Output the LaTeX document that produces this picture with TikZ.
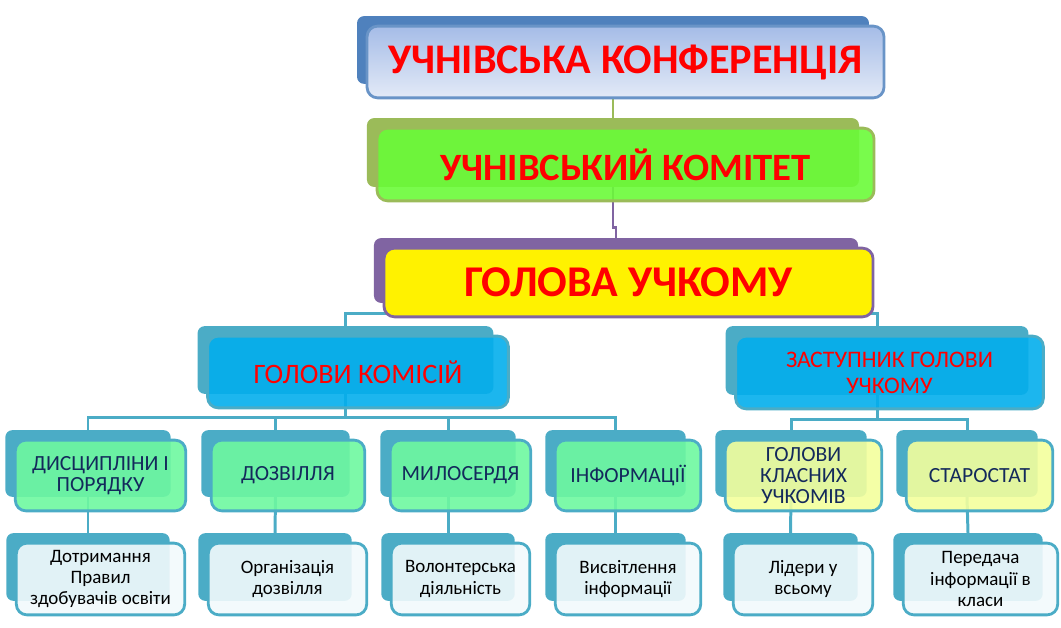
\documentclass[tikz,border=0pt]{standalone}
\usepackage{fontspec}
\setmainfont{Carlito}
\usetikzlibrary{backgrounds}
\definecolor{bluebk}{HTML}{4F81BD}
\definecolor{olivebk}{HTML}{9BBB59}
\definecolor{purplebk}{HTML}{8064A2}
\definecolor{aquabk}{HTML}{4BACC6}
\definecolor{navytxt}{HTML}{13295B}
\definecolor{greenfr}{HTML}{6AFB38}
\definecolor{cyanfr}{HTML}{03AEEC}
\definecolor{mintfr}{HTML}{6EF8A0}
\definecolor{lemonfr}{HTML}{F3FF9C}
\definecolor{palefr}{HTML}{F2FAFC}
\definecolor{skytop}{HTML}{A5BCE7}
\definecolor{skybot}{HTML}{E3EAF7}
\def\px{0.5669pt}
\newcommand\orgunit[8]{%
  \node[shadowbox,#6,minimum width={(#4-#2-5)*\px},minimum height={(#5-#3-4)*\px}] (#1-b) at ({(#2+#4)/2-12.5},{(#3+#5)/2-12}) {};
  \node[frontbox,#7,minimum width={(#4-#2)*\px},minimum height={(#5-#3)*\px}] (#1) at ({(#2+#4)/2},{(#3+#5)/2}) {#8};}
\begin{document}
\begin{tikzpicture}[x=0.02cm,y=-0.02cm,
  shadowbox/.style={rounded corners=4pt,inner sep=0pt,outer sep=0pt},
  frontbox/.style={rounded corners=6pt,line width=1.6pt,align=center,inner sep=0pt,
    fill opacity=0.9,text opacity=1,draw opacity=1},
  toptxt/.style={text=red,font=\fontsize{24}{28}\selectfont\bfseries},
  subtxt/.style={text=red,font=\fontsize{16}{18}\selectfont},
  subtxtb/.style={text=red,font=\fontsize{13.5}{14.7}\selectfont},
  navy/.style={text=navytxt,font=\fontsize{12.3}{12.2}\selectfont},
  plain/.style={text=black,font=\fontsize{10.8}{12}\selectfont},
  link/.style={aquabk,line width=1.7pt}]
\useasboundingbox (0,0) rectangle (1061,628);
\orgunit{top}{366}{26}{885}{98}{fill=bluebk}{draw=bluebk!85!white,top color=skytop,bottom color=skybot,fill opacity=1,toptxt}{УЧНІВСЬКА КОНФЕРЕНЦІЯ}
\orgunit{mid}{376}{128}{875}{201}{fill=olivebk}{draw=olivebk,fill=greenfr,toptxt,font=\fontsize{22}{26}\selectfont\bfseries}{УЧНІВСЬКИЙ КОМІТЕТ}
\orgunit{head}{383}{248}{874}{317}{fill=purplebk}{draw=purplebk,fill=yellow,fill opacity=1,toptxt,font=\fontsize{25}{28}\selectfont\bfseries}{ГОЛОВА УЧКОМУ}
\orgunit{com}{207}{336}{509}{408}{fill=aquabk}{draw=aquabk,fill=cyanfr,subtxt}{ГОЛОВИ КОМІСІЙ}
\orgunit{dep}{735}{336}{1044}{409}{fill=aquabk}{draw=aquabk,fill=cyanfr,subtxtb}{ЗАСТУПНИК ГОЛОВИ\\УЧКОМУ}
\orgunit{d1}{15}{440}{186}{511}{fill=aquabk}{draw=aquabk,fill=mintfr,navy}{ДИСЦИПЛІНИ І\\ПОРЯДКУ}
\orgunit{d2}{211}{440}{365}{511}{fill=aquabk}{draw=aquabk,fill=mintfr,navy}{ДОЗВІЛЛЯ}
\orgunit{d3}{390}{440}{531}{511}{fill=aquabk}{draw=aquabk,fill=mintfr,navy}{МИЛОСЕРДЯ}
\orgunit{d4}{555}{440}{701}{511}{fill=aquabk}{draw=aquabk,fill=mintfr,navy}{ІНФОРМАЦІЇ}
\orgunit{k1}{725}{440}{882}{511}{fill=aquabk}{draw=aquabk,fill=lemonfr,navy}{ГОЛОВИ\\КЛАСНИХ\\УЧКОМІВ}
\orgunit{k2}{906}{440}{1053}{511}{fill=aquabk}{draw=aquabk,fill=lemonfr,navy}{СТАРОСТАТ}
\orgunit{e1}{16}{543}{185}{615}{fill=aquabk}{draw=aquabk,fill=palefr,plain}{Дотримання\\Правил\\здобувачів освіти}
\orgunit{e2}{208}{543}{367}{615}{fill=aquabk}{draw=aquabk,fill=palefr,plain}{Організація\\дозвілля}
\orgunit{e3}{391}{543}{530}{615}{fill=aquabk}{draw=aquabk,fill=palefr,plain}{Волонтерська\\діяльність}
\orgunit{e4}{555}{543}{701}{615}{fill=aquabk}{draw=aquabk,fill=palefr,plain}{Висвітлення\\інформації}
\orgunit{e5}{733}{543}{873}{615}{fill=aquabk}{draw=aquabk,fill=palefr,plain}{Лідери у\\всьому}
\orgunit{e6}{903}{543}{1058}{615}{fill=aquabk}{draw=aquabk,fill=palefr,plain}{Передача\\інформації в\\класи}
\begin{pgfonlayer}{background}
\draw[olivebk,line width=1.6pt] (top-b.south) -- (mid-b.north);
\draw[purplebk,line width=1.6pt] (mid-b.south) -- ++(0,41) -| (head-b.north);
\draw[link] (head-b.south) -- ++(0,11) -| (com-b.north);
\draw[link] (head-b.south) -- ++(0,11) -| (dep-b.north);
\foreach \n in {d1,d2,d3,d4} \draw[link] (com-b.south) -- ++(0,24) -| (\n-b.north);
\foreach \n in {k1,k2} \draw[link] (dep-b.south) -- ++(0,25) -| (\n-b.north);
\foreach \a/\b in {d1/e1,d2/e2,d3/e3,d4/e4,k1/e5,k2/e6} \draw[link] (\a-b.south) -- (\b-b.north);
\end{pgfonlayer}
\end{tikzpicture}
\end{document}
